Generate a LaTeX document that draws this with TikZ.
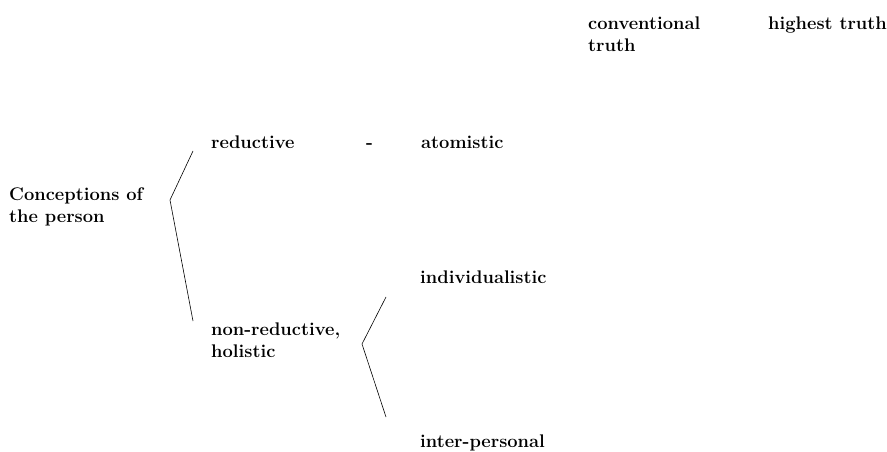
\documentclass[tikz,border=0pt]{standalone}
\usetikzlibrary{positioning}

\begin{document}
\begin{tikzpicture}[
    x=1pt, y=-1pt,
    label/.style={inner sep=0pt, anchor=base west, align=left, font=\fontsize{18.3}{22}\selectfont\bfseries},
    branch/.style={semithick, line join=miter}
]
\useasboundingbox (0,0) rectangle (887,452);

% Truth levels (base = last line)
\node[label] (conv) at (588,52) {conventional\\truth};
\node[label] (high) at (768,30) {highest truth};

% Root
\node[label] (person) at (9,222) {Conceptions of\\the person};

% First split
\node[label] (red) at (211,148) {reductive};
\node[label] (dash) at (366,148) {-};
\node[label] (atom) at (421,148) {atomistic};
\node[label] (nonred) at (211,357) {non-reductive,\\holistic};

% Second split
\node[label] (indiv) at (420,283) {individualistic};
\node[label] (inter) at (420,447) {inter-personal};

% Bracket points
\coordinate (v1) at (170,200);
\coordinate (v1a) at (193,151);
\coordinate (v1b) at (193,321);
\coordinate (v2) at (362,344);
\coordinate (v2a) at (386,297);
\coordinate (v2b) at (386,417);

\draw[branch] (v1a) -- (v1) -- (v1b);
\draw[branch] (v2a) -- (v2) -- (v2b);

\end{tikzpicture}
\end{document}
